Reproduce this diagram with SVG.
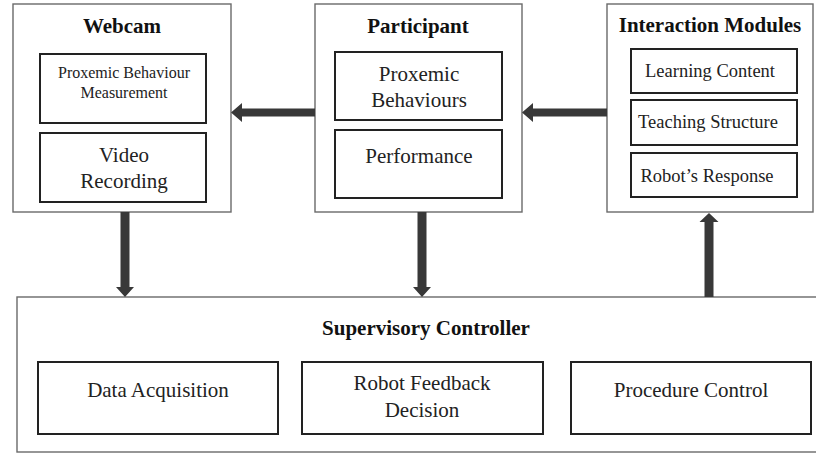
<svg xmlns="http://www.w3.org/2000/svg" width="816" height="455" viewBox="0 0 816 455">
  <style>
    text { font-family: "Liberation Serif", "Times New Roman", "DejaVu Serif", serif; }
    .outer { fill: #fff; stroke: #6a6a6a; stroke-width: 1.4; }
    .inner { fill: none; stroke: #222; stroke-width: 2; }
    .title { font-weight: bold; font-size: 21px; fill: #111; text-anchor: middle; }
    .label { font-weight: normal; font-size: 21px; fill: #222; text-anchor: middle; }
    .small { font-size: 16px; }
    .mid { font-size: 18.5px; }
    .arrow { fill: #383838; }
  </style>
  <rect width="816" height="455" fill="#fff"/>

  <!-- Webcam -->
  <g id="webcam">
    <rect class="outer" x="13" y="4" width="218" height="208"/>
    <text class="title" x="122" y="33">Webcam</text>
    <rect class="inner" x="40" y="54" width="166" height="69"/>
    <text class="label small" x="124" y="78">Proxemic Behaviour</text>
    <text class="label small" x="124" y="98">Measurement</text>
    <rect class="inner" x="40" y="133" width="166" height="69"/>
    <text class="label" x="124" y="162">Video</text>
    <text class="label" x="124" y="188">Recording</text>
  </g>

  <!-- Participant -->
  <g id="participant">
    <rect class="outer" x="315" y="4" width="207" height="208"/>
    <text class="title" x="418" y="33">Participant</text>
    <rect class="inner" x="335" y="52" width="167" height="68"/>
    <text class="label" x="419" y="81">Proxemic</text>
    <text class="label" x="419" y="107">Behaviours</text>
    <rect class="inner" x="335" y="130" width="167" height="68"/>
    <text class="label" x="419" y="163">Performance</text>
  </g>

  <!-- Interaction Modules -->
  <g id="interaction-modules">
    <rect class="outer" x="607" y="4" width="206" height="208"/>
    <text class="title" x="710" y="32">Interaction Modules</text>
    <rect class="inner" x="631" y="49" width="166" height="44"/>
    <text class="label mid" x="710" y="77">Learning Content</text>
    <rect class="inner" x="631" y="100" width="166" height="45"/>
    <text class="label mid" x="708" y="128">Teaching Structure</text>
    <rect class="inner" x="631" y="153" width="166" height="44"/>
    <text class="label mid" x="707" y="182">Robot’s Response</text>
  </g>

  <!-- Supervisory Controller -->
  <g id="supervisory-controller">
    <rect class="outer" x="17" y="297" width="810" height="155"/>
    <text class="title" x="426" y="335">Supervisory Controller</text>
    <rect class="inner" x="38" y="362" width="240" height="72"/>
    <text class="label" x="158" y="397">Data Acquisition</text>
    <rect class="inner" x="302" y="362" width="241" height="72"/>
    <text class="label" x="422" y="390">Robot Feedback</text>
    <text class="label" x="422" y="417">Decision</text>
    <rect class="inner" x="571" y="362" width="240" height="72"/>
    <text class="label" x="691" y="397">Procedure Control</text>
  </g>

  <!-- Connectors -->
  <g id="connectors">
    <!-- Participant to Webcam -->
    <polygon class="arrow" points="315,108.5 242,108.5 242,103 231,112.5 242,122 242,116.5 315,116.5"/>
    <!-- Interaction Modules to Participant -->
    <polygon class="arrow" points="607,108.5 533,108.5 533,103 522,112.5 533,122 533,116.5 607,116.5"/>
    <!-- Webcam to Supervisory Controller -->
    <polygon class="arrow" points="120.5,212 129.5,212 129.5,287 134,287 125,297 116,287 120.5,287"/>
    <!-- Participant to Supervisory Controller -->
    <polygon class="arrow" points="417.5,212 426.5,212 426.5,287 431,287 422,297 413,287 417.5,287"/>
    <!-- Supervisory Controller to Interaction Modules -->
    <polygon class="arrow" points="704.5,297 713.5,297 713.5,222 718.5,222 709,213 699.5,222 704.5,222"/>
  </g>
</svg>
